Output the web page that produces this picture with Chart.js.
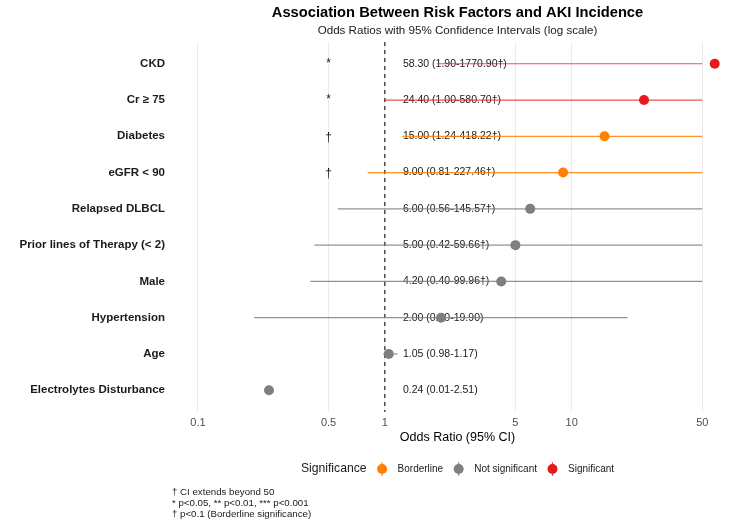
<!DOCTYPE html>
<html>
<head>
<meta charset="utf-8">
<script src="https://cdn.jsdelivr.net/npm/chart.js@4.4.0/dist/chart.umd.min.js"></script>
<style>
  body { margin: 0; background: #fff; }
  #wrap { width: 750px; height: 525px; position: relative; }
</style>
</head>
<body>
<div id="wrap"><canvas id="forestChart"></canvas></div>
<script>
// data
const factors = ['CKD', 'Cr ≥ 75', 'Diabetes', 'eGFR < 90', 'Relapsed DLBCL',
    'Prior lines of Therapy (< 2)', 'Male', 'Hypertension', 'Age', 'Electrolytes Disturbance'];
const oddsRatios = [58.30, 24.40, 15.00, 9.00, 6.00, 5.00, 4.20, 2.00, 1.05, 0.24];
const ciLower = [1.90, 1.00, 1.24, 0.81, 0.56, 0.42, 0.40, 0.20, 0.98, 0.01];
const ciUpper = [1770.90, 580.70, 418.22, 227.46, 145.57, 59.66, 99.96, 19.90, 1.17, 2.51];
const significance = ['Significant', 'Significant', 'Borderline', 'Borderline', 'Not significant',
    'Not significant', 'Not significant', 'Not significant', 'Not significant', 'Not significant'];
const sigMarks = ['*', '*', '†', '†', '', '', '', '', '', ''];
const xTicks = [0.1, 0.5, 1, 5, 10, 50];
const groups = ['Borderline', 'Not significant', 'Significant'];

const CI_CAP = 50;
const LIMITS = [0.1, 60];
const FONT = "'Liberation Sans', Arial, sans-serif";
const groupColors = { 'Borderline': '#FF7F00', 'Not significant': '#7F7F7F', 'Significant': '#E41A1C' };
const lineColors = { 'Borderline': 'rgba(255,127,0,0.85)', 'Not significant': 'rgba(127,127,127,0.85)', 'Significant': 'rgba(228,26,28,0.75)' };

// ggplot style 5% expansion on the log axis
const logSpan = Math.log10(LIMITS[1]) - Math.log10(LIMITS[0]);
const xMin = Math.pow(10, Math.log10(LIMITS[0]) - 0.05 * logSpan);
const xMax = Math.pow(10, Math.log10(LIMITS[1]) + 0.05 * logSpan);

const fmt = v => v.toFixed(2);
const estLabels = factors.map((f, i) =>
    `${fmt(oddsRatios[i])} (${fmt(ciLower[i])}-${fmt(ciUpper[i])}${ciUpper[i] > CI_CAP ? '†' : ''})`);

// one line dataset per CI (rows whose CI falls below the axis limit are dropped, like ggplot)
const ciSets = [];
factors.forEach((f, i) => {
    if (ciLower[i] < LIMITS[0]) return;
    ciSets.push({
        type: 'line',
        data: [{ x: ciLower[i], y: i }, { x: Math.min(ciUpper[i], CI_CAP), y: i }],
        borderColor: lineColors[significance[i]],
        borderWidth: 1.2,
        pointRadius: 0,
        order: 2
    });
});

const pointSets = groups.map(g => ({
    label: g,
    data: factors.map((f, i) => ({ x: oddsRatios[i], y: i })).filter((p, i) => significance[i] === g),
    backgroundColor: groupColors[g],
    pointRadius: 5,
    pointBorderWidth: 0,
    order: 0
}));

const decorPlugin = {
    id: 'forestDecor',
    beforeDatasetsDraw(chart) {
        const { ctx, chartArea, scales: { x, y } } = chart;
        ctx.save();
        // reference line at OR = 1
        ctx.strokeStyle = '#555555';
        ctx.lineWidth = 1.6;
        ctx.setLineDash([4, 4]);
        ctx.beginPath();
        ctx.moveTo(x.getPixelForValue(1), chartArea.top);
        ctx.lineTo(x.getPixelForValue(1), chartArea.bottom);
        ctx.stroke();
        ctx.setLineDash([]);

        ctx.fillStyle = '#1a1a1a';
        ctx.textBaseline = 'middle';
        ctx.font = `10.5px ${FONT}`;
        ctx.textAlign = 'left';
        estLabels.forEach((t, i) => ctx.fillText(t, x.getPixelForValue(1.25), y.getPixelForValue(i)));
        ctx.textAlign = 'center';
        ctx.font = `12px ${FONT}`;
        sigMarks.forEach((m, i) => {
            if (m) ctx.fillText(m, x.getPixelForValue(0.5), y.getPixelForValue(i) + (m === '*' ? 0 : 1));
        });
        ctx.restore();
    },
    afterDraw(chart) {
        const { ctx, chartArea } = chart;
        const cx = (chartArea.left + chartArea.right) / 2;
        ctx.save();
        ctx.fillStyle = '#000';
        ctx.textAlign = 'center';
        ctx.textBaseline = 'middle';
        ctx.font = `bold 14.7px ${FONT}`;
        ctx.fillText('Association Between Risk Factors and AKI Incidence', cx, 13);
        ctx.font = `11.6px ${FONT}`;
        ctx.fillStyle = '#1a1a1a';
        ctx.fillText('Odds Ratios with 95% Confidence Intervals (log scale)', cx, 31);
        ctx.font = `12.5px ${FONT}`;
        ctx.fillStyle = '#000';
        ctx.fillText('Odds Ratio (95% CI)', cx, 438);

        // legend
        ctx.font = `12.2px ${FONT}`;
        const titleW = ctx.measureText('Significance').width;
        ctx.font = `10px ${FONT}`;
        const itemW = groups.map(g => ctx.measureText(g).width);
        let total = titleW;
        itemW.forEach(w => { total += 15.5 + 15.5 + w; });
        let lx = cx - total / 2;
        const ly = 469;
        ctx.textAlign = 'left';
        ctx.font = `12.2px ${FONT}`;
        ctx.fillStyle = '#1a1a1a';
        ctx.fillText('Significance', lx, ly);
        lx += titleW;
        groups.forEach((g, k) => {
            lx += 15.5;
            ctx.strokeStyle = lineColors[g];
            ctx.lineWidth = 1.2;
            ctx.beginPath();
            ctx.moveTo(lx, ly - 7);
            ctx.lineTo(lx, ly + 7);
            ctx.stroke();
            ctx.fillStyle = groupColors[g];
            ctx.beginPath();
            ctx.arc(lx, ly, 5, 0, Math.PI * 2);
            ctx.fill();
            lx += 15.5;
            ctx.font = `10px ${FONT}`;
            ctx.fillStyle = '#1a1a1a';
            ctx.fillText(g, lx, ly);
            lx += itemW[k];
        });

        // caption
        ctx.font = `9.7px ${FONT}`;
        ctx.fillStyle = '#1a1a1a';
        ['† CI extends beyond 50', '* p<0.05, ** p<0.01, *** p<0.001', '† p<0.1 (Borderline significance)']
            .forEach((t, k) => ctx.fillText(t, chartArea.left, 492 + k * 11));
        ctx.restore();
    }
};

new Chart(document.getElementById('forestChart'), {
    type: 'scatter',
    data: { datasets: [...pointSets, ...ciSets] },
    options: {
        responsive: true,
        maintainAspectRatio: false,
        animation: false,
        layout: { padding: { top: 42, bottom: 73, left: 0, right: 7 } },
        plugins: { legend: { display: false }, tooltip: { enabled: false }, title: { display: false } },
        scales: {
            x: {
                type: 'logarithmic',
                min: xMin,
                max: xMax,
                afterBuildTicks: s => { s.ticks = xTicks.map(v => ({ value: v })); },
                afterFit: s => { s.height = 40; },
                grid: { color: '#ebebeb', lineWidth: 1, drawTicks: false },
                border: { display: false },
                ticks: {
                    padding: 4,
                    color: '#4d4d4d',
                    font: { family: FONT, size: 11 },
                    callback: v => String(v)
                }
            },
            y: {
                type: 'linear',
                reverse: true,
                min: -0.6,
                max: factors.length - 0.4,
                afterBuildTicks: s => { s.ticks = factors.map((f, i) => ({ value: i })); },
                afterFit: s => { s.width = 172; },
                grid: { display: false, drawTicks: false },
                border: { display: false },
                ticks: {
                    padding: 7,
                    color: '#1a1a1a',
                    font: { family: FONT, size: 11.5, weight: 'bold' },
                    callback: v => factors[v]
                }
            }
        }
    },
    plugins: [decorPlugin]
});
</script>
</body>
</html>
